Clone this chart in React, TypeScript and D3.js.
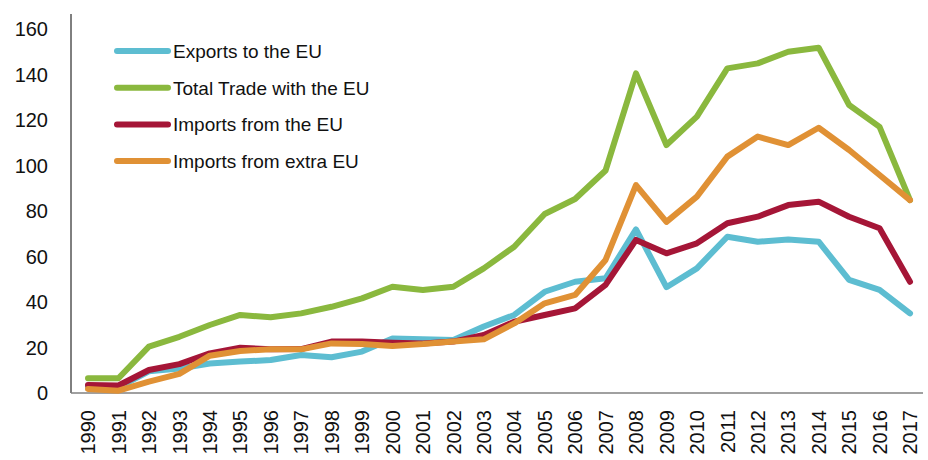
import React from 'react';
import { scaleLinear, scalePoint, line } from 'd3';

const years = [
  1990, 1991, 1992, 1993, 1994, 1995, 1996, 1997, 1998, 1999,
  2000, 2001, 2002, 2003, 2004, 2005, 2006, 2007, 2008, 2009,
  2010, 2011, 2012, 2013, 2014, 2015, 2016, 2017,
];

const exportsEU = [
  2.5, 2.5, 9.5, 10.8, 13, 13.8, 14.5, 16.7, 15.7, 18.2,
  24, 23.6, 23.3, 29.2, 34.3, 44.5, 48.9, 50.4, 71.9, 46.5,
  54.8, 68.7, 66.5, 67.5, 66.5, 49.7, 45.3, 35,
];

const totalTrade = [
  6.5, 6.5, 20.4, 24.7, 29.9, 34.3, 33.3, 35, 37.9, 41.6,
  46.7, 45.3, 46.7, 54.8, 64.3, 78.7, 85.3, 97.8, 140.5, 109,
  121.5, 142.7, 144.9, 150, 151.8, 126.6, 117, 84.8,
];

const importsEU = [
  3.5, 3.3, 10.1, 12.7, 17.4, 19.9, 19.2, 19.3, 22.6, 22.6,
  22.1, 21.8, 22.6, 25.5, 31.3, 34.3, 37.2, 47.5, 67.3, 61.4,
  65.8, 74.6, 77.5, 82.6, 84.1, 77.5, 72.4, 48.9,
];

const importsExtra = [
  1.8, 1.0, 5, 8.4, 16.4, 18.5, 19.2, 19.2, 21.8, 21.5,
  20.7, 21.5, 22.6, 23.6, 30.6, 39.4, 43.1, 58.5, 91.4, 75.2,
  86.3, 103.9, 112.7, 109, 116.6, 106.8, 95.8, 84.8,
];

const yTicks = [0, 20, 40, 60, 80, 100, 120, 140, 160];

const series = [
  { name: 'Exports to the EU', values: exportsEU, color: '#5dbdd1' },
  { name: 'Total Trade with the EU', values: totalTrade, color: '#8ab83e' },
  { name: 'Imports from the EU', values: importsEU, color: '#a51637' },
  { name: 'Imports from extra EU', values: importsExtra, color: '#e09135' },
];

const width = 928;
const height = 460;
const font = '"Liberation Sans", Arial, sans-serif';

export default function App() {
  const x = scalePoint<number>().domain(years).range([88, 910]);
  const y = scaleLinear().domain([0, 160]).range([393, 29]);

  const gen = line<number>()
    .x((_, i) => x(years[i]) as number)
    .y(d => y(d));

  return (
    <svg
      width={width}
      height={height}
      style={{ position: 'absolute', left: 0, top: 0, background: '#fff' }}
      fontFamily={font}
    >
      {/* axes */}
      <line x1={71} x2={71} y1={14} y2={393} stroke="#000" strokeWidth={1} />
      <line x1={71} x2={923} y1={393} y2={393} stroke="#808080" strokeWidth={1.5} />

      {yTicks.map(t => (
        <text key={t} x={48} y={y(t)} dy="0.36em" textAnchor="end" fontSize={20} fill="#111">
          {t}
        </text>
      ))}

      {years.map(yr => {
        const px = x(yr) as number;
        return (
          <text
            key={yr}
            transform={`translate(${px},410) rotate(-90)`}
            dy="0.36em"
            textAnchor="end"
            fontSize={20}
            fill="#111"
          >
            {yr}
          </text>
        );
      })}

      {/* lines */}
      {series.map(s => (
        <path
          key={s.name}
          d={gen(s.values) || ''}
          fill="none"
          stroke={s.color}
          strokeWidth={6}
          strokeLinejoin="round"
          strokeLinecap="round"
        />
      ))}

      {/* legend */}
      {series.map((s, i) => {
        const ly = 51 + i * 36.7;
        return (
          <g key={s.name}>
            <line x1={117} x2={168} y1={ly} y2={ly} stroke={s.color} strokeWidth={6} strokeLinecap="round" />
            <text x={173} y={ly} dy="0.36em" fontSize={19} fill="#111">
              {s.name}
            </text>
          </g>
        );
      })}
    </svg>
  );
}
